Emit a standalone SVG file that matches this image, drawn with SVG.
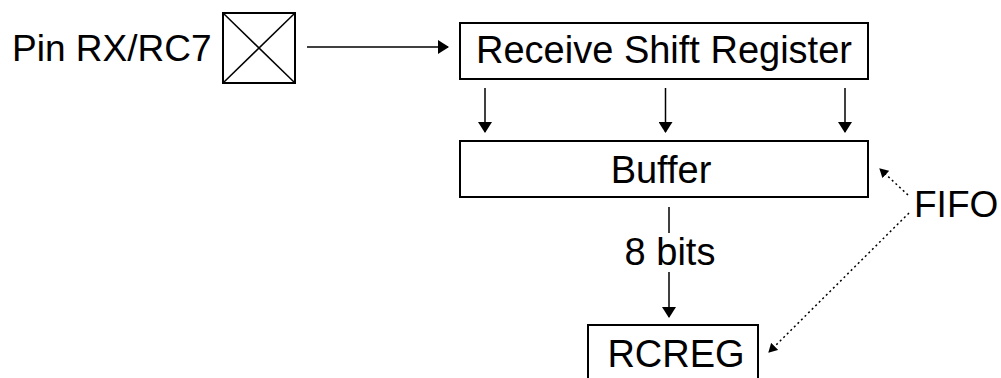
<svg xmlns="http://www.w3.org/2000/svg" width="1001" height="378" viewBox="0 0 1001 378">
<style>
.box{fill:#fff;stroke:#000;stroke-width:2}
.ln{stroke:#000;stroke-width:1.5;fill:none}
.dot{stroke:#000;stroke-width:1.5;fill:none;stroke-dasharray:2 3}
.t{font-family:"Liberation Sans",Arial,sans-serif;font-size:38px;fill:#000}
</style>
<defs>
<marker id="ah" markerUnits="userSpaceOnUse" markerWidth="11" markerHeight="14" refX="10" refY="7" orient="auto">
<path d="M0,0 L11,7 L0,14 z" fill="#000"/>
</marker>
<marker id="ad" markerUnits="userSpaceOnUse" markerWidth="9" markerHeight="10" refX="8" refY="5" orient="auto">
<path d="M0,0 L9,5 L0,10 z" fill="#000"/>
</marker>
</defs>
<rect width="1001" height="378" fill="#fff"/>
<g id="pin">
<text class="t" x="12" y="61" style="font-size:37px">Pin RX/RC7</text>
<rect class="box" x="223" y="13" width="72" height="70"/>
<line class="ln" x1="223" y1="13" x2="295" y2="83"/>
<line class="ln" x1="295" y1="13" x2="223" y2="83"/>
</g>
<g id="rsr">
<rect class="box" x="460" y="23" width="408" height="56"/>
<text class="t" x="664" y="63" text-anchor="middle">Receive Shift Register</text>
</g>
<g id="buffer">
<rect class="box" x="460" y="141" width="408" height="56"/>
<text class="t" x="661" y="183" text-anchor="middle">Buffer</text>
</g>
<g id="rcreg">
<rect class="box" x="588" y="325" width="170" height="70"/>
<text class="t" x="676" y="367" text-anchor="middle">RCREG</text>
</g>
<g id="fifo">
<text class="t" x="914" y="217" style="font-size:37px">FIFO</text>
</g>
<g id="connectors">
<line class="ln" x1="307" y1="47" x2="448" y2="47" marker-end="url(#ah)"/>
<line class="ln" x1="485" y1="88" x2="485" y2="132" marker-end="url(#ah)"/>
<line class="ln" x1="665.5" y1="88" x2="665.5" y2="132" marker-end="url(#ah)"/>
<line class="ln" x1="845" y1="88" x2="845" y2="132" marker-end="url(#ah)"/>
<line class="ln" x1="669" y1="207" x2="669" y2="233"/>
<text class="t" x="670" y="265" text-anchor="middle">8 bits</text>
<line class="ln" x1="669" y1="272" x2="669" y2="317" marker-end="url(#ah)"/>
<line class="dot" x1="908" y1="195" x2="880" y2="169" marker-end="url(#ad)"/>
<line class="dot" x1="909" y1="213" x2="769" y2="352" marker-end="url(#ad)"/>
</g>
</svg>
